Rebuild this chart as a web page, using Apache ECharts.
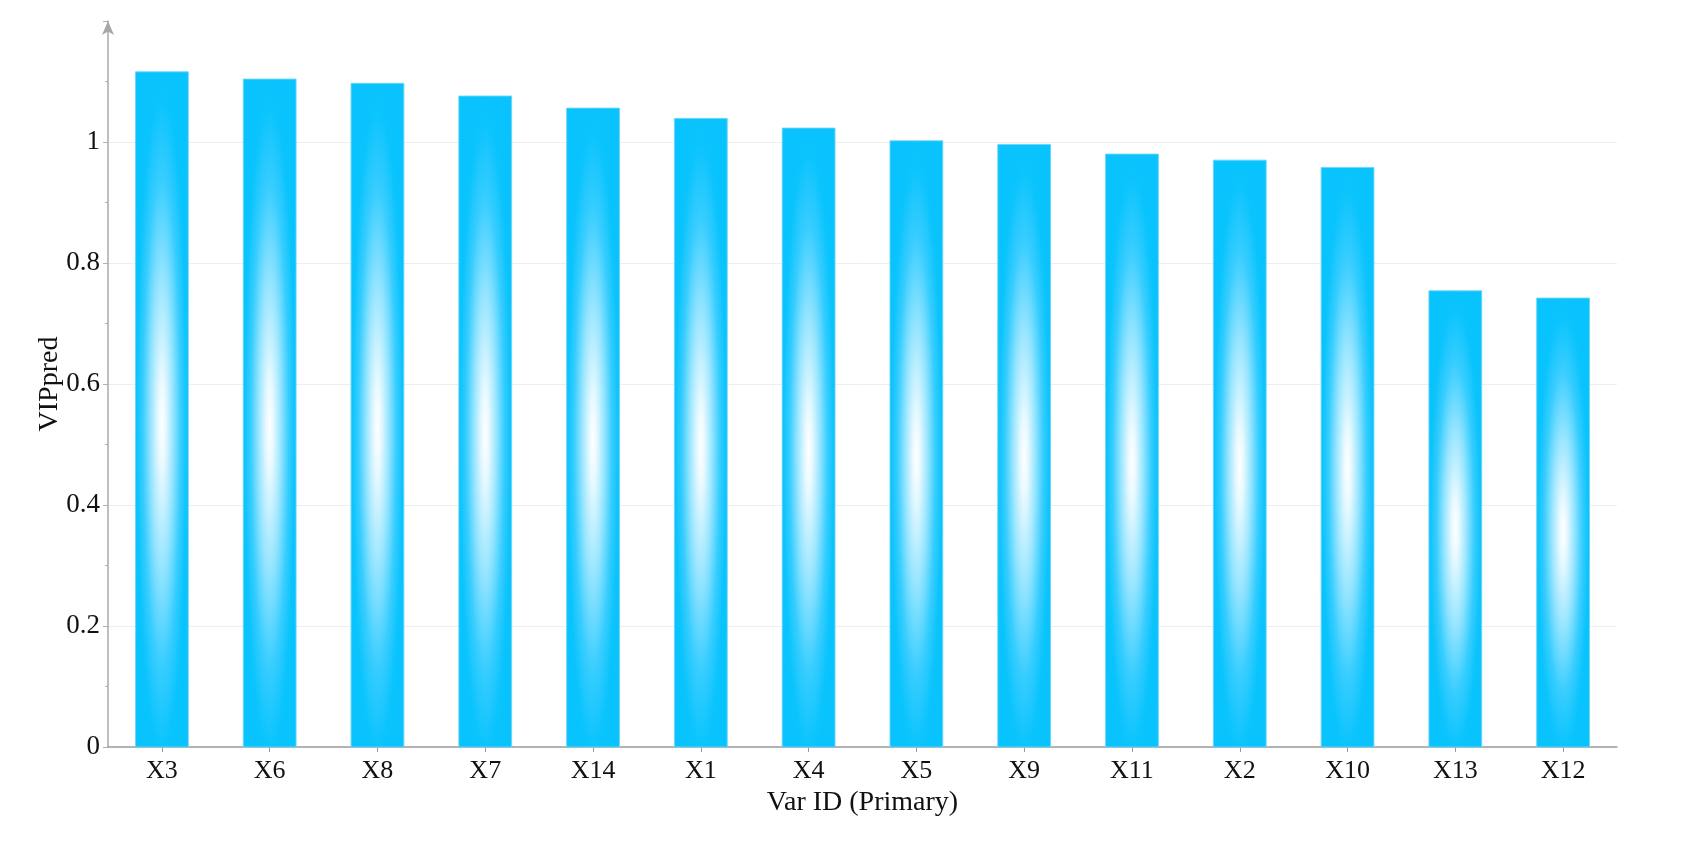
<!DOCTYPE html>
<html>
<head>
<meta charset="utf-8">
<script src="https://cdn.jsdelivr.net/npm/echarts@6/dist/echarts.min.js"></script>
<style>
html,body{margin:0;padding:0;background:#fff;}
#chart{width:1689px;height:856px;}
</style>
</head>
<body>
<div id="chart"></div>
<script>
var categories = ['X3','X6','X8','X7','X14','X1','X4','X5','X9','X11','X2','X10','X13','X12'];
var vipValues = [1.116,1.104,1.097,1.076,1.056,1.039,1.023,1.002,0.996,0.980,0.970,0.958,0.754,0.742];
var yTicks = [0, 0.2, 0.4, 0.6, 0.8, 1, 1.2];

var FONT = "'Liberation Serif', 'DejaVu Serif', serif";
var chart = echarts.init(document.getElementById('chart'), null, {renderer: 'canvas'});

var barGrad = new echarts.graphic.RadialGradient(0.5, 0.52, 0.53, [
  {offset: 0, color: '#ffffff'},
  {offset: 0.13, color: '#e8f9ff'},
  {offset: 0.4, color: '#98e5ff'},
  {offset: 0.68, color: '#38cdff'},
  {offset: 0.9, color: '#0cc4fd'},
  {offset: 1, color: '#08c3fd'}
]);

function renderBar(params, api) {
  var idx = api.value(0);
  var val = api.value(1);
  var top = api.coord([idx, val]);
  var base = api.coord([idx, 0]);
  var bw = api.size([1, 0])[0] * 0.49;
  var h = base[1] - top[1];
  var lh = bw;
  return {
    type: 'group',
    children: [
      {
        type: 'rect',
        shape: {x: -bw / 2, y: -lh, width: bw, height: lh},
        x: top[0], y: base[1],
        scaleY: h / lh,
        style: {fill: barGrad}
      },
      {
        type: 'rect',
        shape: {x: top[0] - bw / 2, y: top[1], width: bw, height: h},
        style: {fill: null, stroke: 'rgba(110,212,245,0.9)', lineWidth: 1}
      }
    ]
  };
}

var option = {
  backgroundColor: '#ffffff',
  animation: false,
  grid: {left: 108, right: 72, top: 21, bottom: 109, containLabel: false},
  xAxis: {
    type: 'category',
    data: categories,
    name: 'Var ID (Primary)',
    nameLocation: 'middle',
    nameGap: 42,
    nameMoveOverlap: false,
    nameTextStyle: {fontFamily: FONT, fontSize: 28, color: '#111'},
    axisLine: {lineStyle: {color: '#9a9a9a', width: 1.5}},
    axisTick: {show: true, alignWithLabel: true, length: 5, lineStyle: {color: '#9a9a9a'}},
    axisLabel: {fontFamily: FONT, fontSize: 26, color: '#111', margin: 11},
    splitLine: {show: false}
  },
  yAxis: {
    type: 'value',
    min: yTicks[0],
    max: yTicks[yTicks.length - 1],
    interval: 0.2,
    name: 'VIPpred',
    nameLocation: 'middle',
    nameRotate: 90,
    nameGap: 44,
    nameMoveOverlap: false,
    nameTextStyle: {fontFamily: FONT, fontSize: 28, color: '#111'},
    axisLine: {show: true, lineStyle: {color: '#a8a8a8', width: 1.5}, symbol: ['none', 'arrow'], symbolSize: [9, 14]},
    axisTick: {show: true, length: 5, lineStyle: {color: '#b0b0b0'}},
    minorTick: {show: true, splitNumber: 2, length: 3, lineStyle: {color: '#b0b0b0'}},
    axisLabel: {fontFamily: FONT, fontSize: 27, color: '#111', margin: 8, showMaxLabel: false},
    splitLine: {show: true, showMinLine: false, showMaxLine: false, lineStyle: {color: '#eeeeee', width: 1}}
  },
  series: [{
    type: 'custom',
    renderItem: renderBar,
    encode: {x: 0, y: 1},
    data: vipValues.map(function (v, i) { return [i, v]; }),
    z: 3
  }]
};
chart.setOption(option);
</script>
</body>
</html>
